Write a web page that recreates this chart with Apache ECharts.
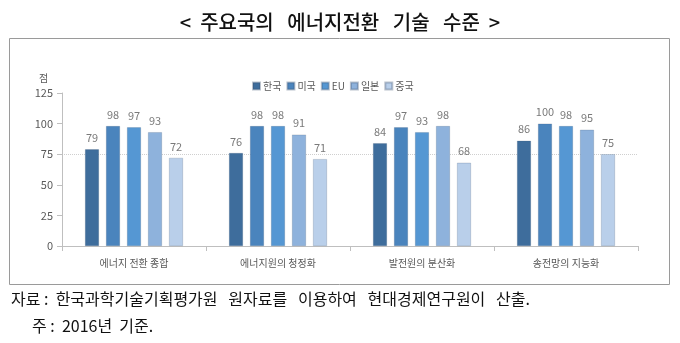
<!DOCTYPE html>
<html>
<head>
<meta charset="utf-8">
<script src="https://cdn.jsdelivr.net/npm/echarts@6/dist/echarts.min.js"></script>
<style>
  html, body { margin: 0; padding: 0; background: #fff; }
  #chart { width: 680px; height: 343px; }
</style>
</head>
<body>
<div id="chart"></div>
<script>
// Energy-transition technology level of major economies (2016)
const categories = ['에너지 전환 종합', '에너지원의 청정화', '발전원의 분산화', '송전망의 지능화'];
const countries = ['한국', '미국', 'EU', '일본', '중국'];
const korea = [79, 76, 84, 86];
const usa = [98, 98, 97, 100];
const eu = [97, 98, 93, 98];
const japan = [93, 91, 98, 95];
const china = [72, 71, 68, 75];
const yTicks = [0, 25, 50, 75, 100, 125];

const seriesValues = [korea, usa, eu, japan, china];
const colors = ['#3e6d9c', '#4a84bd', '#5597d3', '#8eb2dc', '#b9cfea'];
const font = '"Noto Sans CJK KR", "Noto Sans", sans-serif';

const chart = echarts.init(document.getElementById('chart'));
chart.setOption({
  animation: false,
  textStyle: { fontFamily: font },
  title: [
    {
      text: '<  주요국의   에너지전환   기술   수준  >',
      left: 'center', top: 7,
      textStyle: { fontSize: 20, fontWeight: 500, color: '#111', fontFamily: font }
    },
    {
      text: '자료 :  한국과학기술기획평가원   원자료를   이용하여   현대경제연구원이   산출.',
      left: 6, top: 286,
      textStyle: { fontSize: 16, fontWeight: 'normal', color: '#111', fontFamily: font }
    },
    {
      text: '주 :  2016년  기준.',
      left: 27, top: 313,
      textStyle: { fontSize: 16, fontWeight: 'normal', color: '#111', fontFamily: font }
    },
    {
      text: '점',
      left: 34, top: 68,
      textStyle: { fontSize: 10, fontWeight: 'normal', color: '#595959', fontFamily: font }
    }
  ],
  graphic: [{
    type: 'rect',
    shape: { x: 9.5, y: 38.5, width: 660, height: 246 },
    style: { fill: 'none', stroke: '#9a9a9a', lineWidth: 1 },
    silent: true
  }],
  legend: {
    top: 76, left: 247,
    itemWidth: 7, itemHeight: 7, itemGap: 5,
    icon: 'rect',
    textStyle: { fontSize: 10, color: '#595959', padding: [0, 0, 0, -2] },
    data: countries
  },
  grid: { left: 62, right: 42, top: 93, bottom: 97 },
  xAxis: {
    type: 'category',
    data: categories,
    axisLine: { lineStyle: { color: '#bfbfbf' } },
    axisTick: { show: true, length: 5, lineStyle: { color: '#bfbfbf' } },
    axisLabel: { fontSize: 10, color: '#595959', margin: 12 }
  },
  yAxis: {
    type: 'value',
    min: yTicks[0], max: yTicks[yTicks.length - 1], interval: 25,
    axisLine: { show: true, lineStyle: { color: '#bfbfbf' } },
    axisTick: { show: true, length: 5, lineStyle: { color: '#bfbfbf' } },
    axisLabel: { fontSize: 11, color: '#595959', margin: 9 },
    splitLine: {
      show: true,
      lineStyle: {
        type: 'dotted',
        color: ['transparent', 'transparent', 'transparent', '#cfcfcf', 'transparent', 'transparent']
      }
    }
  },
  series: countries.map((name, i) => ({
    name,
    type: 'bar',
    data: seriesValues[i],
    barWidth: 14,
    barGap: '50%',
    itemStyle: { color: colors[i], borderColor: 'rgba(60,80,110,0.35)', borderWidth: 0.6 },
    label: {
      show: true, position: 'top', distance: 6,
      fontSize: 11, color: '#7a7a7a'
    }
  }))
});
</script>
</body>
</html>
